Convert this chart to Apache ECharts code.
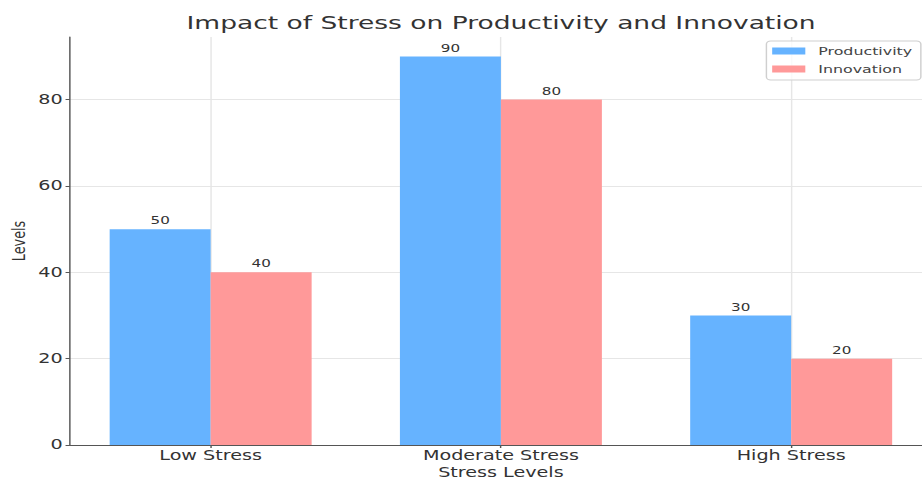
<!DOCTYPE html>
<html>
<head>
<meta charset="utf-8">
<script src="https://cdn.jsdelivr.net/npm/echarts@6/dist/echarts.min.js"></script>
<style>
  html, body { margin: 0; padding: 0; background: #fff; overflow: hidden; }
  #chart { width: 640px; height: 481px; transform: scaleX(1.440625); transform-origin: 0 0; }
</style>
</head>
<body>
<div id="chart"></div>
<script>
const categories = ['Low Stress', 'Moderate Stress', 'High Stress'];
const productivity = [50, 90, 30];
const innovation = [40, 80, 20];
const yTicks = [0, 20, 40, 60, 80];
const xTicks = [0, 1, 2];

const FONT = 'DejaVu Sans';
const chart = echarts.init(document.getElementById('chart'), null, { renderer: 'svg' });

const toPairs = arr => arr.map((v, i) => [i, v]);

chart.setOption({
  animation: false,
  backgroundColor: '#ffffff',
  textStyle: { fontFamily: FONT },
  title: {
    text: 'Impact of Stress on Productivity and Innovation',
    left: 347.8,
    top: 14,
    padding: 0,
    textAlign: 'center',
    textStyle: { fontFamily: FONT, fontSize: 18.4, fontWeight: 'normal', color: '#333' }
  },
  legend: {
    orient: 'vertical',
    left: 532,
    top: 41,
    padding: [3, 6, 4, 4],
    itemWidth: 23,
    itemHeight: 7,
    itemGap: 4,
    borderColor: '#cfcfcf',
    borderWidth: 1,
    borderRadius: 3,
    backgroundColor: 'rgba(255,255,255,0.8)',
    icon: 'rect',
    textStyle: { fontFamily: FONT, fontSize: 11, color: '#444', lineHeight: 14, padding: [0, 0, 0, 4] },
    data: ['Productivity', 'Innovation']
  },
  grid: { left: 48.5, top: 37, width: 598.4, bottom: 36, containLabel: false, outerBoundsMode: 'none' },
  xAxis: {
    type: 'value',
    min: -0.485,
    max: 2.485,
    name: 'Stress Levels',
    nameLocation: 'middle',
    nameGap: 21,
    nameMoveOverlap: false,
    nameTextStyle: { fontFamily: FONT, fontSize: 13.3, color: '#333', lineHeight: 14 },
    axisLine: { show: true, onZero: false, lineStyle: { color: '#555', width: 1 } },
    axisTick: { show: true, customValues: xTicks, length: 3, lineStyle: { color: '#555' } },
    axisLabel: {
      customValues: xTicks,
      margin: 4,
      fontFamily: FONT, fontSize: 13.3, color: '#333',
      formatter: v => categories[Math.round(v)]
    },
    splitLine: { show: true, lineStyle: { color: '#e6e6e6', width: 1 } }
  },
  yAxis: {
    type: 'value',
    min: 0,
    max: 94.5,
    name: 'Levels',
    nameLocation: 'middle',
    nameGap: 28,
    nameMoveOverlap: false,
    nameTextStyle: { fontFamily: FONT, fontSize: 12.8, color: '#333', lineHeight: 15 },
    axisLine: { show: true, onZero: false, lineStyle: { color: '#555', width: 1 } },
    axisTick: { show: true, customValues: yTicks, length: 3, lineStyle: { color: '#555' } },
    axisLabel: { customValues: yTicks, margin: 5, fontFamily: FONT, fontSize: 13.3, color: '#333' },
    splitLine: { show: true, lineStyle: { color: '#e6e6e6', width: 1 } }
  },
  series: [
    {
      name: 'Productivity',
      type: 'bar',
      data: toPairs(productivity),
      barWidth: 70.1,
      barGap: '0%',
      itemStyle: { color: '#66b3ff' },
      label: { show: true, position: 'top', distance: 3, fontFamily: FONT, fontSize: 10.5, color: '#333',
               formatter: p => p.value[1] }
    },
    {
      name: 'Innovation',
      type: 'bar',
      data: toPairs(innovation),
      barWidth: 70.1,
      barGap: '0%',
      itemStyle: { color: '#ff9999' },
      label: { show: true, position: 'top', distance: 3, fontFamily: FONT, fontSize: 10.5, color: '#333',
               formatter: p => p.value[1] }
    }
  ]
});
</script>
</body>
</html>
